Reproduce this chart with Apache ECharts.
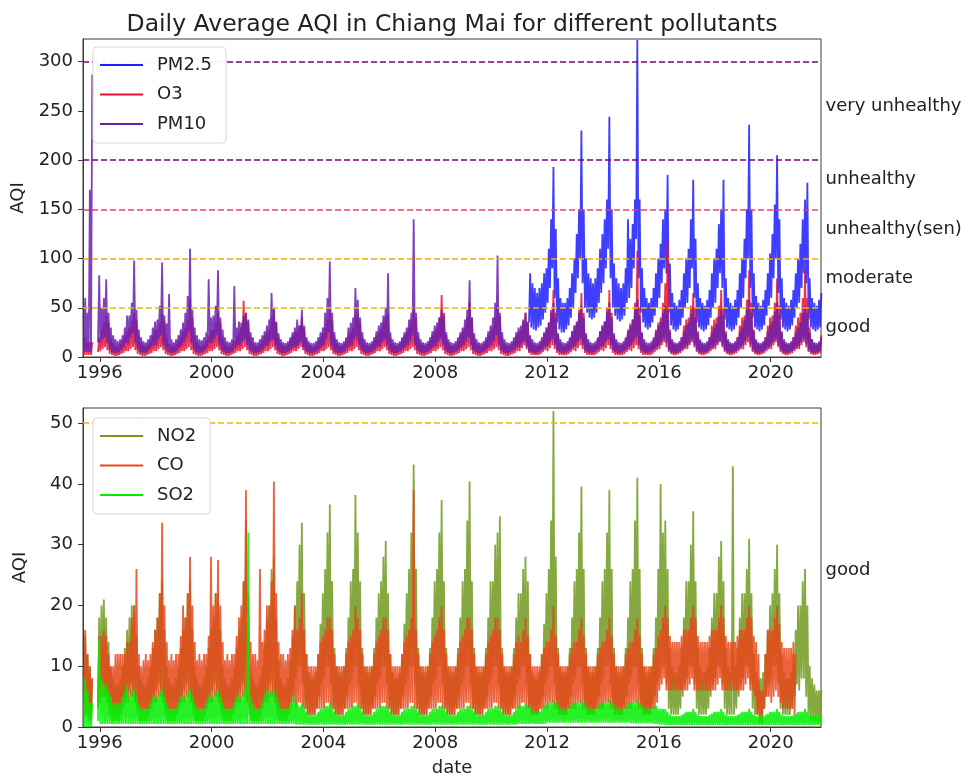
<!DOCTYPE html>
<html>
<head>
<meta charset="utf-8">
<title>Daily Average AQI in Chiang Mai</title>
<script src="https://cdn.jsdelivr.net/npm/echarts@6/dist/echarts.min.js"></script>
<style>
  html, body { margin: 0; padding: 0; background: #fff; }
  #chart { width: 975px; height: 778px; }
</style>
</head>
<body>
<div id="chart"></div>
<script>
// each row is one year, Jan..Dec (first row starts Jun 1995)
// Hi / Lo = upper and lower edge of the daily band in that month

// ---- top panel ----
const pm10Hi = [
  60, 45, 170, 287, null, null, 83,
  50, 60, 79, 45, 30, 22, 18, 16, 18, 22, 30, 42,
  42, 55, 98, 48, 28, 20, 16, 15, 18, 22, 30, 36,
  38, 52, 96, 42, 34, 64, 18, 15, 18, 22, 28, 35,
  45, 62, 110, 48, 30, 22, 18, 17, 20, 25, 79, 40,
  42, 52, 88, 40, 28, 20, 16, 15, 18, 72, 30, 36,
  35, 42, 45, 38, 25, 20, 15, 15, 18, 22, 26, 32,
  38, 65, 50, 35, 24, 18, 15, 14, 16, 20, 25, 30,
  38, 32, 48, 30, 20, 16, 14, 14, 16, 20, 25, 30,
  45, 60, 97, 45, 25, 18, 15, 14, 16, 20, 30, 35,
  40, 70, 58, 40, 25, 18, 15, 14, 16, 20, 26, 32,
  35, 42, 50, 85, 25, 18, 15, 14, 16, 20, 25, 30,
  38, 45, 140, 45, 25, 18, 15, 14, 16, 20, 26, 32,
  35, 40, 48, 42, 25, 18, 15, 14, 16, 20, 25, 30,
  38, 48, 78, 40, 24, 18, 15, 14, 16, 20, 26, 32,
  40, 55, 103, 45, 25, 18, 15, 14, 16, 20, 25, 30,
  32, 38, 45, 35, 22, 18, 15, 14, 16, 20, 25, 30,
  35, 45, 55, 40, 24, 18, 15, 14, 16, 20, 26, 32,
  36, 45, 52, 40, 24, 18, 15, 14, 16, 20, 26, 32,
  36, 46, 55, 40, 24, 18, 15, 14, 16, 20, 26, 32,
  38, 48, 58, 42, 25, 18, 15, 14, 16, 20, 26, 32,
  36, 45, 52, 48, 25, 18, 15, 14, 16, 20, 26, 32,
  35, 44, 50, 40, 24, 18, 15, 14, 16, 20, 25, 30,
  34, 42, 48, 42, 24, 18, 15, 14, 16, 20, 25, 30,
  38, 48, 58, 45, 26, 18, 15, 14, 16, 20, 26, 32,
  36, 46, 55, 42, 25, 18, 15, 14, 16, 20, 25, 30,
  35, 45, 52, 45, 25, 18, 15, 14, 16, 20
]
const pm10Lo = [
  5, 5, 5, 5, null, null, 15,
  14, 18, 20, 14, 8, 5, 4, 4, 5, 7, 10, 14,
  14, 20, 24, 14, 8, 5, 4, 4, 5, 7, 10, 12,
  12, 18, 22, 12, 8, 5, 4, 4, 5, 6, 9, 12,
  15, 20, 25, 14, 8, 5, 4, 4, 5, 7, 10, 14,
  14, 18, 22, 12, 7, 5, 4, 4, 5, 6, 9, 12,
  12, 15, 18, 12, 7, 5, 4, 4, 5, 6, 8, 11,
  12, 16, 18, 12, 7, 5, 4, 4, 5, 6, 8, 10,
  10, 12, 15, 10, 6, 5, 4, 4, 5, 6, 8, 10,
  12, 18, 25, 12, 7, 5, 4, 4, 5, 6, 9, 11,
  12, 18, 20, 12, 7, 5, 4, 4, 5, 6, 8, 10,
  11, 15, 18, 12, 7, 5, 4, 4, 5, 6, 8, 10,
  12, 16, 22, 12, 7, 5, 4, 4, 5, 6, 8, 10,
  11, 15, 18, 12, 7, 5, 4, 4, 5, 6, 8, 10,
  12, 16, 20, 12, 7, 5, 4, 4, 5, 6, 8, 10,
  12, 16, 22, 12, 7, 5, 4, 4, 5, 6, 8, 10,
  10, 14, 16, 10, 6, 5, 4, 4, 5, 6, 8, 10,
  11, 15, 18, 12, 7, 5, 4, 4, 5, 6, 8, 10,
  11, 15, 18, 12, 7, 5, 4, 4, 5, 6, 8, 10,
  11, 15, 18, 12, 7, 5, 4, 4, 5, 6, 8, 10,
  12, 16, 20, 12, 7, 5, 4, 4, 5, 6, 8, 10,
  11, 15, 18, 14, 7, 5, 4, 4, 5, 6, 8, 10,
  11, 14, 17, 12, 7, 5, 4, 4, 5, 6, 8, 10,
  11, 14, 16, 12, 7, 5, 4, 4, 5, 6, 8, 10,
  12, 16, 20, 13, 7, 5, 4, 4, 5, 6, 8, 10,
  11, 15, 18, 12, 7, 5, 4, 4, 5, 6, 8, 10,
  11, 15, 18, 13, 7, 5, 4, 4, 5, 6
]
const o3Hi = [
  20, 15, 15, 15, null, null, 20,
  28, 35, 42, 35, 20, 14, 12, 11, 13, 17, 22, 26,
  30, 36, 45, 38, 22, 15, 12, 11, 13, 17, 22, 27,
  28, 35, 44, 36, 20, 14, 12, 11, 13, 17, 22, 26,
  30, 38, 60, 40, 22, 15, 12, 11, 13, 17, 22, 27,
  28, 35, 45, 36, 20, 14, 12, 11, 13, 17, 22, 26,
  30, 57, 45, 36, 20, 14, 12, 11, 13, 17, 22, 26,
  28, 40, 48, 36, 20, 14, 12, 11, 13, 17, 22, 26,
  26, 32, 40, 32, 18, 13, 11, 10, 12, 16, 20, 24,
  30, 38, 48, 38, 20, 14, 12, 11, 13, 17, 22, 26,
  30, 42, 45, 36, 20, 14, 12, 11, 13, 17, 22, 26,
  28, 36, 42, 45, 20, 14, 12, 11, 13, 17, 22, 26,
  30, 38, 48, 40, 20, 14, 12, 11, 13, 17, 22, 26,
  30, 40, 63, 45, 22, 15, 12, 11, 13, 17, 22, 26,
  30, 40, 55, 40, 20, 14, 12, 11, 13, 17, 22, 26,
  30, 40, 52, 42, 20, 14, 12, 11, 13, 17, 22, 26,
  28, 36, 45, 36, 20, 14, 12, 11, 13, 17, 24, 30,
  35, 48, 68, 45, 22, 15, 12, 11, 13, 18, 26, 32,
  35, 48, 65, 45, 22, 15, 12, 11, 13, 18, 26, 32,
  36, 50, 68, 45, 22, 15, 12, 11, 13, 18, 28, 34,
  38, 55, 108, 50, 24, 15, 12, 11, 13, 18, 28, 35,
  40, 55, 75, 118, 28, 16, 13, 12, 14, 20, 32, 38,
  40, 52, 65, 50, 26, 16, 13, 12, 14, 20, 32, 38,
  40, 52, 68, 50, 26, 16, 13, 12, 14, 20, 32, 40,
  42, 58, 88, 55, 28, 16, 13, 12, 14, 20, 32, 40,
  42, 55, 80, 52, 26, 16, 13, 12, 14, 20, 32, 40,
  45, 60, 90, 60, 30, 18, 14, 12, 14, 22
]
const o3Lo = [
  2, 2, 2, 2, null, null, 5,
  6, 8, 10, 7, 3, 2, 1, 1, 2, 3, 4, 6,
  6, 8, 10, 7, 3, 2, 1, 1, 2, 3, 4, 6,
  6, 8, 10, 7, 3, 2, 1, 1, 2, 3, 4, 6,
  6, 8, 10, 7, 3, 2, 1, 1, 2, 3, 4, 6,
  6, 8, 10, 7, 3, 2, 1, 1, 2, 3, 4, 6,
  6, 8, 10, 7, 3, 2, 1, 1, 2, 3, 4, 6,
  6, 8, 10, 7, 3, 2, 1, 1, 2, 3, 4, 6,
  6, 8, 10, 7, 3, 2, 1, 1, 2, 3, 4, 6,
  6, 8, 10, 7, 3, 2, 1, 1, 2, 3, 4, 6,
  6, 8, 10, 7, 3, 2, 1, 1, 2, 3, 4, 6,
  6, 8, 10, 7, 3, 2, 1, 1, 2, 3, 4, 6,
  6, 8, 10, 7, 3, 2, 1, 1, 2, 3, 4, 6,
  6, 8, 10, 7, 3, 2, 1, 1, 2, 3, 4, 6,
  6, 8, 10, 7, 3, 2, 1, 1, 2, 3, 4, 6,
  6, 8, 10, 7, 3, 2, 1, 1, 2, 3, 4, 6,
  6, 9, 12, 8, 4, 2, 2, 2, 2, 3, 5, 7,
  6, 9, 12, 8, 4, 2, 2, 2, 2, 3, 5, 7,
  6, 9, 12, 8, 4, 2, 2, 2, 2, 3, 5, 7,
  6, 9, 12, 8, 4, 2, 2, 2, 2, 3, 5, 7,
  6, 9, 12, 8, 4, 2, 2, 2, 2, 3, 5, 7,
  8, 12, 15, 10, 5, 3, 2, 2, 3, 4, 6, 8,
  8, 12, 15, 10, 5, 3, 2, 2, 3, 4, 6, 8,
  8, 12, 15, 10, 5, 3, 2, 2, 3, 4, 6, 8,
  8, 12, 15, 10, 5, 3, 2, 2, 3, 4, 6, 8,
  8, 12, 15, 10, 5, 3, 2, 2, 3, 4, 6, 8,
  8, 12, 15, 10, 5, 3, 2, 2, 3, 4
]
// PM2.5 only starts in May 2011
const pm25Hi = [
  85, 75, 70, 65, 70, 75, 85, 90,
  110, 140, 193, 130, 80, 60, 55, 55, 60, 70, 85, 100,
  125, 150, 230, 150, 100, 85, 80, 75, 80, 90, 110, 125,
  140, 160, 244, 150, 95, 80, 75, 70, 75, 90, 140, 120,
  135, 160, 322, 160, 90, 70, 60, 55, 60, 70, 85, 100,
  115, 140, 150, 185, 95, 65, 55, 52, 58, 68, 85, 100,
  110, 140, 180, 120, 75, 60, 55, 52, 58, 68, 85, 100,
  110, 135, 150, 180, 80, 60, 55, 52, 58, 68, 85, 100,
  120, 150, 236, 150, 85, 62, 55, 52, 58, 68, 85, 105,
  125, 155, 205, 140, 80, 60, 55, 52, 58, 68, 85, 100,
  115, 140, 160, 177, 80, 60, 55, 52, 58, 65
]
const pm25Lo = [
  35, 30, 28, 27, 30, 32, 38, 45,
  55, 70, 90, 60, 35, 28, 25, 25, 28, 32, 40, 50,
  65, 80, 100, 75, 50, 45, 40, 38, 40, 45, 55, 65,
  75, 90, 110, 80, 50, 42, 38, 36, 38, 42, 55, 60,
  70, 90, 120, 80, 45, 35, 30, 28, 30, 35, 42, 50,
  60, 75, 90, 85, 45, 32, 28, 26, 28, 32, 40, 50,
  55, 70, 90, 60, 35, 30, 28, 26, 28, 32, 40, 50,
  55, 70, 85, 70, 38, 30, 28, 26, 28, 32, 40, 50,
  60, 80, 100, 70, 40, 30, 28, 26, 28, 32, 42, 52,
  60, 80, 100, 65, 38, 30, 28, 26, 28, 32, 40, 50,
  55, 70, 85, 75, 38, 30, 28, 26, 28, 30
]

// ---- bottom panel ----
const no2Hi = [
  15, 12, 10, 8, null, null, 18,
  20, 21, 18, 14, 10, 8, 7, 7, 8, 10, 13, 16,
  18, 20, 20, 15, 10, 8, 7, 7, 8, 10, 13, 16,
  18, 22, 24, 16, 10, 8, 7, 7, 8, 10, 13, 16,
  18, 22, 24, 16, 10, 8, 7, 7, 8, 10, 13, 16,
  18, 22, 22, 16, 10, 8, 7, 7, 8, 10, 13, 16,
  18, 24, 34, 16, 10, 8, 7, 7, 8, 10, 14, 18,
  20, 26, 28, 18, 11, 8, 7, 7, 8, 11, 15, 20,
  24, 30, 33.6, 22, 12, 9, 8, 8, 9, 12, 17, 22,
  26, 32, 36.6, 24, 13, 10, 9, 9, 10, 13, 18, 24,
  26, 38.2, 32, 24, 13, 10, 9, 9, 10, 13, 18, 22,
  24, 28, 30.6, 22, 12, 9, 8, 8, 9, 12, 17, 22,
  26, 32, 43.2, 26, 13, 10, 9, 9, 10, 13, 18, 24,
  26, 32, 37.4, 24, 13, 10, 9, 9, 10, 13, 18, 24,
  26, 34, 40.4, 24, 13, 10, 9, 9, 10, 13, 18, 24,
  24, 30, 32, 34.7, 13, 10, 9, 9, 10, 13, 18, 22,
  22, 26, 28, 24, 12, 9, 8, 8, 9, 12, 17, 22,
  26, 34, 52, 28, 13, 10, 9, 9, 10, 13, 18, 24,
  26, 32, 39.6, 26, 13, 10, 9, 9, 10, 13, 18, 24,
  26, 32, 39, 26, 13, 10, 9, 9, 10, 13, 18, 24,
  26, 34, 41, 26, 13, 10, 9, 9, 10, 13, 18, 26,
  40, 32, 34, 26, 13, 10, 9, 9, 10, 13, 18, 24,
  24, 30, 35.5, 24, 13, 10, 9, 9, 10, 13, 18, 22,
  22, 28, 30.6, 24, 13, 10, 9, 42.9, 10, 13, 18, 22,
  22, 26, 31, 22, 12, 9, 8, 8, 9, 12, 16, 20,
  22, 26, 30, 22, 12, 9, 8, 8, 9, 12, 16, 20,
  20, 24, 26, 20, 10, 8, 7, 6, 6, 6
]
const no2Lo = [
  2, 2, 1, 1, null, null, 4,
  6, 7, 6, 4, 2, 1, 1, 1, 1, 2, 3, 5,
  6, 7, 6, 4, 2, 1, 1, 1, 1, 2, 3, 5,
  6, 7, 6, 4, 2, 1, 1, 1, 1, 2, 3, 5,
  6, 7, 6, 4, 2, 1, 1, 1, 1, 2, 3, 5,
  6, 7, 6, 4, 2, 1, 1, 1, 1, 2, 3, 5,
  6, 7, 6, 4, 2, 1, 1, 1, 1, 2, 3, 5,
  6, 7, 6, 4, 2, 1, 1, 1, 1, 2, 3, 5,
  8, 10, 10, 7, 3, 2, 2, 2, 2, 3, 5, 7,
  8, 10, 10, 7, 3, 2, 2, 2, 2, 3, 5, 7,
  8, 10, 10, 7, 3, 2, 2, 2, 2, 3, 5, 7,
  8, 10, 10, 7, 3, 2, 2, 2, 2, 3, 5, 7,
  8, 10, 10, 7, 3, 2, 2, 2, 2, 3, 5, 7,
  8, 10, 10, 7, 3, 2, 2, 2, 2, 3, 5, 7,
  8, 10, 10, 7, 3, 2, 2, 2, 2, 3, 5, 7,
  8, 10, 10, 7, 3, 2, 2, 2, 2, 3, 5, 7,
  8, 10, 10, 7, 3, 2, 2, 2, 2, 3, 5, 7,
  8, 10, 10, 7, 3, 2, 2, 2, 2, 3, 5, 7,
  8, 10, 10, 7, 3, 2, 2, 2, 2, 3, 5, 7,
  8, 10, 10, 7, 3, 2, 2, 2, 2, 3, 5, 7,
  8, 10, 10, 7, 3, 2, 2, 2, 2, 3, 5, 7,
  8, 10, 10, 7, 3, 2, 2, 2, 2, 3, 5, 7,
  8, 10, 10, 7, 3, 2, 2, 2, 2, 3, 5, 7,
  8, 10, 10, 7, 3, 2, 2, 2, 2, 3, 5, 7,
  8, 10, 10, 7, 3, 2, 2, 2, 2, 3, 5, 7,
  8, 10, 10, 7, 3, 2, 2, 2, 2, 3, 5, 7,
  6, 8, 8, 5, 2, 1, 1, 1, 1, 1
]
// CO stops near the end of 2020
const coHi = [
  16, 12, 10, 8, null, null, 15,
  15, 16, 15, 12, 10, 10, 12, 12, 12, 12, 12, 14,
  14, 18, 20, 26, 12, 10, 11, 12, 11, 12, 14, 16,
  18, 22, 33.6, 20, 14, 11, 12, 11, 12, 12, 15, 20,
  18, 22, 28, 20, 14, 11, 12, 11, 12, 12, 15, 28,
  20, 22, 27.5, 20, 14, 11, 12, 11, 12, 12, 15, 18,
  20, 24, 39, 22, 14, 12, 12, 11, 26, 14, 16, 20,
  20, 24, 40.4, 22, 14, 12, 12, 11, 12, 13, 16, 20,
  16, 18, 22, 16, 12, 10, 10, 10, 10, 12, 14, 15,
  16, 18, 18, 16, 12, 10, 10, 10, 10, 12, 14, 15,
  16, 20, 18, 16, 12, 10, 10, 10, 10, 12, 14, 15,
  16, 18, 18, 16, 12, 10, 10, 10, 10, 12, 14, 15,
  16, 18, 39, 16, 12, 10, 10, 10, 10, 12, 14, 15,
  16, 18, 20, 16, 12, 10, 10, 10, 10, 12, 14, 15,
  16, 18, 18, 16, 12, 10, 10, 10, 10, 12, 14, 15,
  16, 18, 18, 16, 12, 10, 10, 10, 10, 12, 14, 15,
  14, 16, 18, 15, 12, 10, 10, 10, 10, 12, 13, 14,
  14, 16, 20, 15, 12, 10, 10, 10, 10, 12, 13, 14,
  14, 16, 18, 15, 12, 10, 10, 10, 10, 12, 13, 14,
  14, 16, 18, 15, 12, 10, 10, 10, 10, 12, 13, 14,
  14, 16, 18, 15, 12, 10, 10, 10, 10, 12, 13, 15,
  16, 18, 20, 18, 15, 14, 14, 14, 14, 15, 16, 16,
  16, 18, 20, 18, 15, 14, 14, 14, 14, 15, 16, 16,
  16, 18, 20, 18, 15, 14, 14, 14, 14, 15, 16, 16,
  16, 18, 20, 18, 15, 14, 12, 6, 6, 12, 16, 16,
  16, 18, 20, 17, 14, 13, 13, 13, 13, 14, 12, null
]
const coLo = [
  2, 2, 2, 2, null, null, 3,
  4, 5, 5, 4, 3, 3, 3, 3, 3, 3, 4, 4,
  4, 5, 5, 4, 3, 3, 3, 3, 3, 3, 4, 4,
  4, 5, 5, 4, 3, 3, 3, 3, 3, 3, 4, 4,
  4, 5, 5, 4, 3, 3, 3, 3, 3, 3, 4, 4,
  4, 5, 5, 4, 3, 3, 3, 3, 3, 3, 4, 4,
  4, 5, 5, 4, 3, 3, 3, 3, 3, 3, 4, 4,
  4, 5, 5, 4, 3, 3, 3, 3, 3, 3, 4, 4,
  3, 4, 4, 3, 3, 2, 2, 2, 2, 3, 3, 3,
  3, 4, 4, 3, 3, 2, 2, 2, 2, 3, 3, 3,
  3, 4, 4, 3, 3, 2, 2, 2, 2, 3, 3, 3,
  3, 4, 4, 3, 3, 2, 2, 2, 2, 3, 3, 3,
  3, 4, 4, 3, 3, 2, 2, 2, 2, 3, 3, 3,
  3, 4, 4, 3, 3, 2, 2, 2, 2, 3, 3, 3,
  3, 4, 4, 3, 3, 2, 2, 2, 2, 3, 3, 3,
  3, 4, 4, 3, 3, 2, 2, 2, 2, 3, 3, 3,
  3, 4, 4, 3, 3, 2, 2, 2, 2, 3, 3, 3,
  3, 4, 4, 3, 3, 2, 2, 2, 2, 3, 3, 3,
  3, 4, 4, 3, 3, 2, 2, 2, 2, 3, 3, 3,
  3, 4, 4, 3, 3, 2, 2, 2, 2, 3, 3, 3,
  3, 4, 4, 3, 3, 2, 2, 2, 2, 3, 3, 4,
  6, 7, 8, 6, 6, 6, 6, 6, 6, 6, 6, 6,
  6, 7, 8, 6, 6, 6, 6, 6, 6, 6, 6, 6,
  6, 7, 8, 6, 6, 6, 6, 6, 6, 6, 6, 6,
  6, 7, 8, 6, 6, 5, 2, 0.5, 0.5, 3, 5, 5,
  4, 5, 6, 5, 4, 3, 3, 3, 3, 3, 2, null
]
const so2Hi = [
  8, 6, 4, 4, null, null, 14.5,
  8, 7, 7, 6, 5, 4, 4, 4, 4, 5, 6, 7,
  5, 6, 6, 5, 4, 3, 3, 3, 3, 4, 5, 5,
  5, 6, 6, 5, 4, 3, 3, 3, 3, 4, 5, 5,
  5, 6, 6, 5, 4, 3, 3, 3, 3, 4, 5, 5,
  5, 6, 6, 5, 4, 3, 3, 3, 3, 4, 5, 5,
  5, 6, 7, 32, 5, 4, 3, 3, 3, 4, 5, 6,
  6, 6, 6, 5, 4, 3, 3, 3, 3, 4, 4, 5,
  4, 3.5, 4, 3, 2.5, 2, 2, 2, 2, 2.5, 3, 3,
  3.5, 3.5, 4, 3, 2.5, 2, 2, 2, 2, 2.5, 3, 3,
  3.5, 3.5, 4, 3, 2.5, 2, 2, 2, 2, 2.5, 3, 3,
  3.5, 3.5, 3.5, 3, 2.5, 2, 2, 2, 2, 2.5, 3, 3,
  3, 3.5, 3.5, 3, 2.5, 2, 2, 2, 2, 2.5, 3, 3,
  3, 3.5, 3.5, 3, 2.5, 2, 2, 2, 2, 2.5, 3, 3,
  3, 3.5, 3.5, 3, 2.5, 2, 2, 2, 2, 2.5, 3, 3,
  3, 3.5, 3.5, 3, 2.5, 2, 2, 2, 2, 2.5, 3, 3.5,
  3.5, 3.5, 4, 3.5, 3, 2.5, 2.5, 2.5, 2.5, 3, 3.5, 3.5,
  4, 4, 4.5, 4, 3.5, 3, 3, 3, 3, 3.5, 4, 4,
  4, 4, 4.5, 4, 3.5, 3, 3, 3, 3, 3.5, 4, 4,
  4, 4, 4.5, 4, 3.5, 3, 3, 3, 3, 3.5, 4, 4,
  4, 4, 4.5, 4, 3.5, 3, 3, 3, 3, 3.5, 3.5, 3,
  3, 3, 3, 2.5, 2, 1.8, 1.8, 1.8, 1.8, 2, 2.2, 2.5,
  2.5, 2.5, 3, 2.5, 2, 1.8, 1.8, 1.8, 1.8, 2, 2.2, 2.5,
  2.5, 2.5, 3, 2.5, 2, 1.8, 1.8, 1.8, 1.8, 2, 2.2, 2.5,
  2.5, 2.5, 3, 2.5, 2, 1.8, 1.8, 1.8, 1.8, 2, 2.2, 2.5,
  2.5, 2.5, 3, 2.5, 2, 1.8, 1.8, 1.8, 1.8, 2, 2.2, 2.5,
  2.5, 2.5, 3, 2.5, 2, 1.8, 1.8, 1.8, 1.8, 2
]
const so2Lo = [
  0, 0, 0, 0, null, null, 1,
  0.5, 0.5, 0.5, 0.5, 0.5, 0.5, 0.5, 0.5, 0.5, 0.5, 0.5, 0.5,
  0.5, 0.5, 0.5, 0.5, 0.5, 0.5, 0.5, 0.5, 0.5, 0.5, 0.5, 0.5,
  0.5, 0.5, 0.5, 0.5, 0.5, 0.5, 0.5, 0.5, 0.5, 0.5, 0.5, 0.5,
  0.5, 0.5, 0.5, 0.5, 0.5, 0.5, 0.5, 0.5, 0.5, 0.5, 0.5, 0.5,
  0.5, 0.5, 0.5, 0.5, 0.5, 0.5, 0.5, 0.5, 0.5, 0.5, 0.5, 0.5,
  0.5, 0.5, 0.5, 0.5, 0.5, 0.5, 0.5, 0.5, 0.5, 0.5, 0.5, 0.5,
  0.5, 0.5, 0.5, 0.5, 0.5, 0.5, 0.5, 0.5, 0.5, 0.5, 0.5, 0.5,
  0.4, 0.4, 0.4, 0.4, 0.4, 0.4, 0.4, 0.4, 0.4, 0.4, 0.4, 0.4,
  0.4, 0.4, 0.4, 0.4, 0.4, 0.4, 0.4, 0.4, 0.4, 0.4, 0.4, 0.4,
  0.4, 0.4, 0.4, 0.4, 0.4, 0.4, 0.4, 0.4, 0.4, 0.4, 0.4, 0.4,
  0.4, 0.4, 0.4, 0.4, 0.4, 0.4, 0.4, 0.4, 0.4, 0.4, 0.4, 0.4,
  0.4, 0.4, 0.4, 0.4, 0.4, 0.4, 0.4, 0.4, 0.4, 0.4, 0.4, 0.4,
  0.4, 0.4, 0.4, 0.4, 0.4, 0.4, 0.4, 0.4, 0.4, 0.4, 0.4, 0.4,
  0.4, 0.4, 0.4, 0.4, 0.4, 0.4, 0.4, 0.4, 0.4, 0.4, 0.4, 0.4,
  0.4, 0.4, 0.4, 0.4, 0.4, 0.4, 0.4, 0.4, 0.4, 0.4, 0.4, 0.4,
  0.5, 0.5, 0.5, 0.5, 0.5, 0.5, 0.5, 0.5, 0.5, 0.5, 0.5, 0.5,
  0.7, 0.7, 0.7, 0.7, 0.7, 0.7, 0.7, 0.7, 0.7, 0.7, 0.7, 0.7,
  0.7, 0.7, 0.7, 0.7, 0.7, 0.7, 0.7, 0.7, 0.7, 0.7, 0.7, 0.7,
  0.7, 0.7, 0.7, 0.7, 0.7, 0.7, 0.7, 0.7, 0.7, 0.7, 0.7, 0.7,
  0.6, 0.6, 0.6, 0.6, 0.6, 0.6, 0.6, 0.6, 0.6, 0.6, 0.5, 0.5,
  0.4, 0.4, 0.4, 0.3, 0.3, 0.3, 0.3, 0.3, 0.3, 0.3, 0.3, 0.3,
  0.3, 0.3, 0.3, 0.3, 0.3, 0.3, 0.3, 0.3, 0.3, 0.3, 0.3, 0.3,
  0.3, 0.3, 0.3, 0.3, 0.3, 0.3, 0.3, 0.3, 0.3, 0.3, 0.3, 0.3,
  0.3, 0.3, 0.3, 0.3, 0.3, 0.3, 0.3, 0.3, 0.3, 0.3, 0.3, 0.3,
  0.3, 0.3, 0.3, 0.3, 0.3, 0.3, 0.3, 0.3, 0.3, 0.3, 0.3, 0.3,
  0.3, 0.3, 0.3, 0.3, 0.3, 0.3, 0.3, 0.3, 0.3, 0.3
]

// axis ticks, AQI levels and their labels
const yearTicks = [1996, 2000, 2004, 2008, 2012, 2016, 2020]
const topTicks = [0, 50, 100, 150, 200, 250, 300]
const bottomTicks = [0, 10, 20, 30, 40, 50]
const topLevels = [50, 100, 150, 200, 300]
const bottomLevels = [50]
const topBands = ['good', 'moderate', 'unhealthy(sen)', 'unhealthy', 'very unhealthy']
const topBandMid = [25, 75, 125, 175, 250]
const bottomBands = ['good']
const bottomBandMid = [25]

const xMin = 1995.4
const xMax = 2021.8
const topMax = 323
const bottomMax = 52.5

const levelColor = { 50: '#e3bd00', 100: '#ffa500', 150: '#f0406a', 200: '#7a007a', 300: '#7a007a' }
const font = 'DejaVu Sans'
const textColor = '#222'
const frameColor = '#3a3a3a'
const fs = 18

// one point at the low edge and one at the high edge of every month
function zigzag (hi, lo, year0, month0) {
  const pts = []
  for (let i = 0; i < hi.length; i++) {
    const m = month0 + i
    const base = year0 + Math.floor(m / 12) + (m % 12) / 12
    pts.push([base + 0.25 / 12, lo[i]])
    pts.push([base + 0.75 / 12, hi[i]])
  }
  return pts
}

function lineSeries (name, data, color, gi) {
  return {
    name,
    type: 'line',
    xAxisIndex: gi,
    yAxisIndex: gi,
    data,
    showSymbol: false,
    symbol: 'none',
    smooth: false,
    connectNulls: false,
    color,
    itemStyle: { color },
    lineStyle: { color, width: 1.8, opacity: 0.85, join: 'bevel' },
    emphasis: { disabled: true }
  }
}

function levelSeries (levels, gi) {
  return {
    type: 'line',
    xAxisIndex: gi,
    yAxisIndex: gi,
    data: [],
    silent: true,
    markLine: {
      symbol: 'none',
      silent: true,
      label: { show: false },
      data: levels.map(v => ({ yAxis: v, lineStyle: { color: levelColor[v], type: [6, 3], width: 1.7 } }))
    }
  }
}

function bandLabelSeries (names, mids, gi) {
  return {
    type: 'scatter',
    xAxisIndex: gi,
    yAxisIndex: gi,
    clip: false,
    silent: true,
    symbolSize: 1,
    itemStyle: { color: 'rgba(255,255,255,0)', opacity: 1 },
    data: mids.map((v, i) => ({ value: [xMax, v], name: names[i] })),
    label: {
      show: true,
      position: 'right',
      distance: 4,
      offset: [0, -5],
      formatter: p => p.name,
      color: textColor,
      opacity: 1,
      fontSize: fs,
      fontFamily: font
    },
    emphasis: { disabled: true }
  }
}

function xAxis (gi, name) {
  return {
    type: 'value',
    gridIndex: gi,
    min: xMin,
    max: xMax,
    axisLine: { show: true, lineStyle: { color: frameColor } },
    axisTick: { show: true, length: 5, customValues: yearTicks, lineStyle: { color: frameColor } },
    axisLabel: { customValues: yearTicks, formatter: v => String(Math.round(v)), color: textColor, fontSize: fs, fontFamily: font, margin: 7 },
    splitLine: { show: false },
    name,
    nameLocation: 'middle',
    nameGap: 32,
    nameTextStyle: { color: textColor, fontSize: fs, fontFamily: font }
  }
}

function yAxis (gi, max, ticks) {
  return {
    type: 'value',
    gridIndex: gi,
    min: 0,
    max,
    axisLine: { show: true, lineStyle: { color: frameColor } },
    axisTick: { show: true, length: 5, customValues: ticks, lineStyle: { color: frameColor } },
    axisLabel: { customValues: ticks, formatter: v => String(v), color: textColor, fontSize: fs, fontFamily: font, margin: 10 },
    splitLine: { show: false },
    name: 'AQI',
    nameLocation: 'middle',
    nameGap: 54,
    nameTextStyle: { color: textColor, fontSize: fs, fontFamily: font }
  }
}

function legend (names, top) {
  return {
    data: names,
    orient: 'vertical',
    left: 93,
    top,
    z: 30,
    icon: 'rect',
    itemWidth: 43,
    itemHeight: 2,
    itemGap: 9.5,
    padding: [8, 14, 9, 7],
    backgroundColor: 'rgba(255,255,255,0.95)',
    borderColor: '#d6d6d6',
    borderWidth: 1,
    borderRadius: 4,
    selectedMode: false,
    textStyle: { color: textColor, fontSize: fs, fontFamily: font, lineHeight: 20, padding: [0, 0, 0, 9] }
  }
}

const chart = echarts.init(document.getElementById('chart'))
chart.setOption({
  animation: false,
  backgroundColor: '#fff',
  title: {
    text: 'Daily Average AQI in Chiang Mai for different pollutants',
    left: 447,
    top: 8,
    textAlign: 'center',
    textStyle: { color: textColor, fontSize: 23.5, fontWeight: 'normal', fontFamily: font }
  },
  legend: [legend(['PM2.5', 'O3', 'PM10'], 47), legend(['NO2', 'CO', 'SO2'], 418)],
  grid: [
    { left: 83, top: 39, width: 738, height: 318, show: true, borderColor: frameColor, borderWidth: 1 },
    { left: 83, top: 408, width: 738, height: 320, show: true, borderColor: frameColor, borderWidth: 1 }
  ],
  xAxis: [xAxis(0, ''), xAxis(1, 'date')],
  yAxis: [yAxis(0, topMax, topTicks), yAxis(1, bottomMax, bottomTicks)],
  series: [
    lineSeries('PM2.5', zigzag(pm25Hi, pm25Lo, 2011, 4), '#1c1cff', 0),
    lineSeries('O3', zigzag(o3Hi, o3Lo, 1995, 5), '#e8102f', 0),
    lineSeries('PM10', zigzag(pm10Hi, pm10Lo, 1995, 5), '#6a20b0', 0),
    levelSeries(topLevels, 0),
    bandLabelSeries(topBands, topBandMid, 0),
    lineSeries('NO2', zigzag(no2Hi, no2Lo, 1995, 5), '#6f9a1e', 1),
    lineSeries('CO', zigzag(coHi, coLo, 1995, 5), '#e8471a', 1),
    lineSeries('SO2', zigzag(so2Hi, so2Lo, 1995, 5), '#00ee00', 1),
    levelSeries(bottomLevels, 1),
    bandLabelSeries(bottomBands, bottomBandMid, 1)
  ]
})
</script>
</body>
</html>
